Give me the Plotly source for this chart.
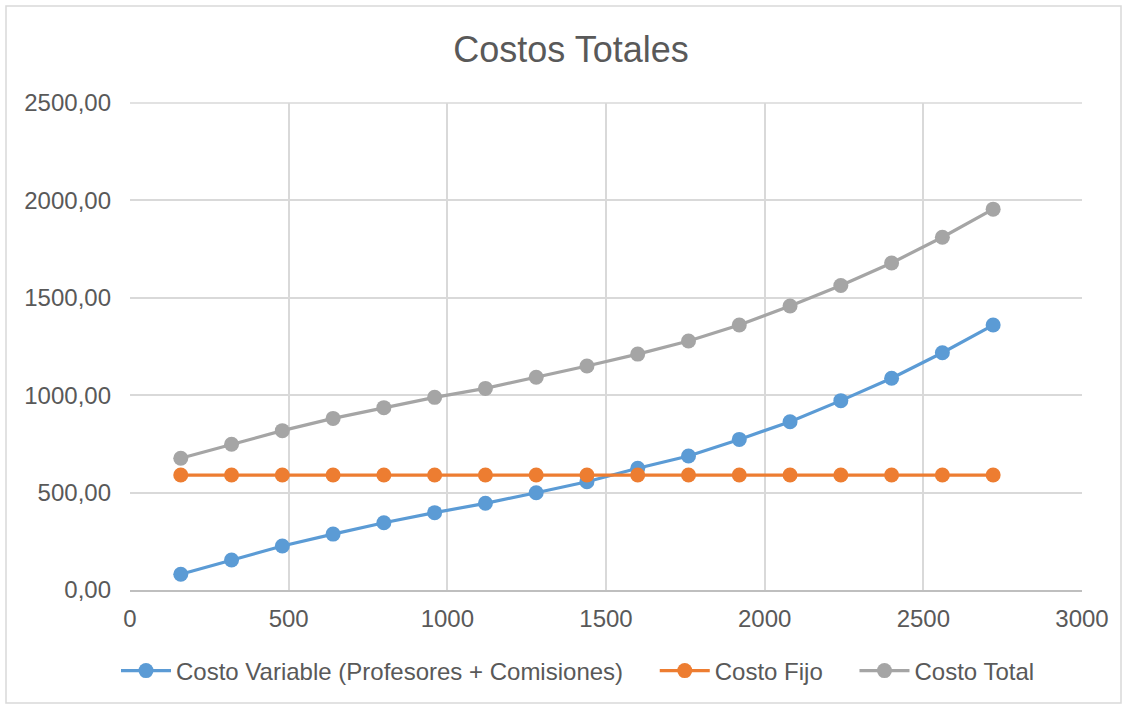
import plotly.graph_objects as go

# Estudiantes (eje X)
cantidad = [160, 320, 480, 640, 800, 960, 1120, 1280, 1440, 1600,
            1760, 1920, 2080, 2240, 2400, 2560, 2720]

costo_variable = [81, 154, 226, 287, 345, 397, 445, 499, 556, 625,
                  688, 773, 864, 972, 1087, 1218, 1360]
costo_fijo = [590] * 17
costo_total = [676, 748, 818, 881, 936, 989, 1035, 1092, 1150, 1211,
               1278, 1360, 1458, 1563, 1679, 1811, 1955]

series_names = ["Costo Variable (Profesores + Comisiones)", "Costo Fijo", "Costo Total"]
series_colors = ["#5B9BD5", "#ED7D31", "#A5A5A5"]

FONT = "Liberation Sans, Arial, sans-serif"
TXT = "#595959"
PAD = "\u00a0" * 4  # extra room between legend entries

fig = go.Figure()
traces = list(zip(series_names, [costo_variable, costo_fijo, costo_total], series_colors))
for i, (name, ys, col) in enumerate(traces):
    label = name + (PAD if i < len(traces) - 1 else "")
    fig.add_trace(go.Scatter(
        x=cantidad, y=ys, name=label, mode="lines+markers",
        line=dict(color=col, width=3.2),
        marker=dict(color=col, size=15),
    ))

W, H = 1125, 705
ML, MR, MT, MB = 130, 43, 103, 115
pw, ph = W - ML - MR, H - MT - MB

def px_x(p):
    return (p - ML) / pw

def px_y(p):
    return (H - MB - p) / ph

fig.update_layout(
    width=W, height=H,
    margin=dict(l=ML, r=MR, t=MT, b=MB),
    paper_bgcolor="white", plot_bgcolor="white",
    separators=",.",
    font=dict(family=FONT, color=TXT, size=24),
    title=dict(text="Costos Totales", x=571 / W, xanchor="center",
               y=1 - 49 / H, yanchor="middle",
               font=dict(family=FONT, size=36, color=TXT)),
    xaxis=dict(range=[0, 3000], dtick=500, tickformat="d",
               showgrid=True, gridcolor="#D9D9D9", gridwidth=1.5,
               showline=True, linecolor="#BFBFBF", linewidth=1.5,
               zeroline=False, ticks="", ticklabelstandoff=6,
               tickfont=dict(size=24, color=TXT), mirror=False),
    yaxis=dict(range=[0, 2500], dtick=500, tickformat=".2f",
               showgrid=True, gridcolor="#D9D9D9", gridwidth=1.5,
               showline=False, zeroline=False, ticks="",
               ticklabelstandoff=18,
               tickfont=dict(size=24, color=TXT)),
    legend=dict(orientation="h", xref="container", yref="container",
                x=578 / W, xanchor="center", y=1 - 671 / H, yanchor="middle",
                font=dict(size=24, color=TXT), itemwidth=50,
                bgcolor="rgba(0,0,0,0)"),
    showlegend=True,
    shapes=[
        dict(type="rect", xref="paper", yref="paper",
             x0=px_x(6), x1=px_x(1121), y0=px_y(703), y1=px_y(6),
             line=dict(color="#D9D9D9", width=1.5), fillcolor="rgba(0,0,0,0)",
             layer="below"),
        dict(type="line", xref="paper", yref="paper",
             x0=0, x1=1, y0=1, y1=1, line=dict(color="#D9D9D9", width=1.5)),
    ],
)

fig.write_html("out.html")
